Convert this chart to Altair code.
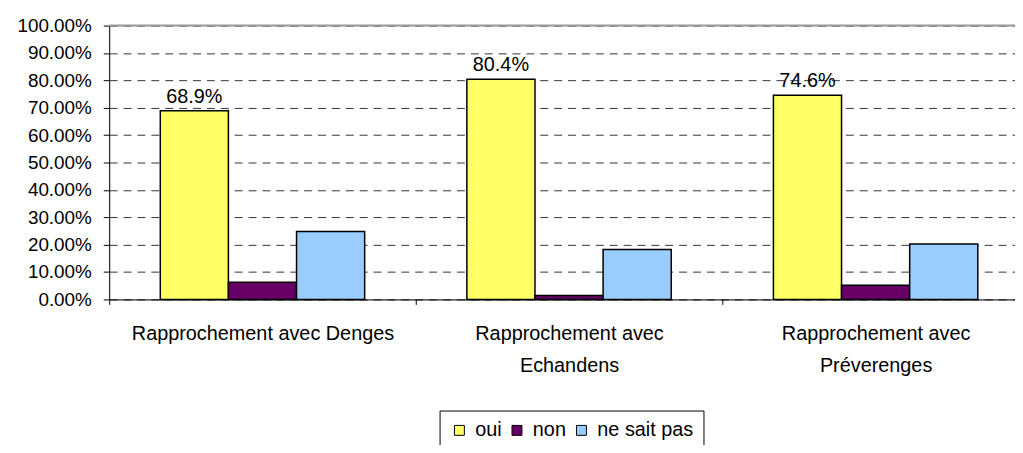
import altair as alt
import pandas as pd

categories = ["Rapprochement avec Denges", "Rapprochement avec|Echandens", "Rapprochement avec|Préverenges"]
series = ["oui", "non", "ne sait pas"]
oui = [68.9, 80.4, 74.6]
non = [6.3, 1.4, 5.2]
nsp = [24.8, 18.2, 20.2]
colors = ["#FFFF66", "#660066", "#99CCFF"]
y_ticks = [0.0, 0.1, 0.2, 0.3, 0.4, 0.5, 0.6, 0.7, 0.8, 0.9, 1.0]

rows = []
for i, c in enumerate(categories):
    for s, vals in zip(series, [oui, non, nsp]):
        rows.append({"cat": c, "rep": s, "val": vals[i] / 100, "lab": f"{vals[i]:.1f}%"})
df = pd.DataFrame(rows)

FONT = "Liberation Sans"
yscale = alt.Scale(domain=[0, 1], nice=False)

x = alt.X("cat:N", sort=categories,
          scale=alt.Scale(paddingInner=0, paddingOuter=0, range=[0, 927]),
          axis=alt.Axis(title=None, labelAngle=0, labelExpr="split(datum.label, '|')",
                        tickBand="extent", tickSize=5, labelPadding=19,
                        labelFontSize=20, labelLineHeight=33, labelLimit=0,
                        labelBaseline="top", domainColor="#000", tickColor="#000",
                        labelColor="#000", labelFont=FONT))
xo = alt.XOffset("rep:N", sort=series, scale=alt.Scale(paddingInner=0, paddingOuter=0.75))
y = alt.Y("val:Q", scale=yscale,
          axis=alt.Axis(title=None, values=y_ticks, tickCount=len(y_ticks), format=".2%",
                        tickSize=6, labelPadding=12, labelOverlap=False,
                        labelFontSize=19, labelFont=FONT, labelColor="#000",
                        domainColor="#000", tickColor="#000",
                        grid=True, gridDash=[8, 6], gridColor="#333", gridWidth=1))

base = alt.Chart(df)

bars = base.mark_bar(stroke="#000", strokeWidth=1.5).encode(
    x=x, xOffset=xo, y=y,
    color=alt.Color("rep:N", sort=series, scale=alt.Scale(domain=series, range=colors),
                    legend=alt.Legend(title=None, orient="none", legendX=333, legendY=388,
                                      direction="horizontal", symbolType="square",
                                      symbolSize=100, symbolStrokeColor="#000",
                                      symbolStrokeWidth=1, labelFontSize=20, labelFont=FONT,
                                      labelColor="#000", labelOffset=6, columnPadding=5,
                                      padding=10, strokeColor="#000", fillColor="#fff")),
)

text = base.transform_filter(alt.datum.rep == "oui").mark_text(
    fontSize=20, font=FONT, color="#000", dy=-8, baseline="alphabetic", align="center"
).encode(x=x, xOffset=xo, y=y, text="lab:N")

top = alt.Chart(pd.DataFrame({"val": [1.0]})).mark_rule(color="#999", strokeWidth=2).encode(
    y=y
)

chart = alt.layer(bars, text, top).properties(
    width=913, height=276,
    autosize=alt.AutoSizeParams(type="none"),
    padding={"left": 102, "top": 16, "right": 0, "bottom": 145},
).configure_view(stroke=None).configure(background="#fff")

chart.save("out.html", embed_options={"renderer": "svg", "actions": False})
